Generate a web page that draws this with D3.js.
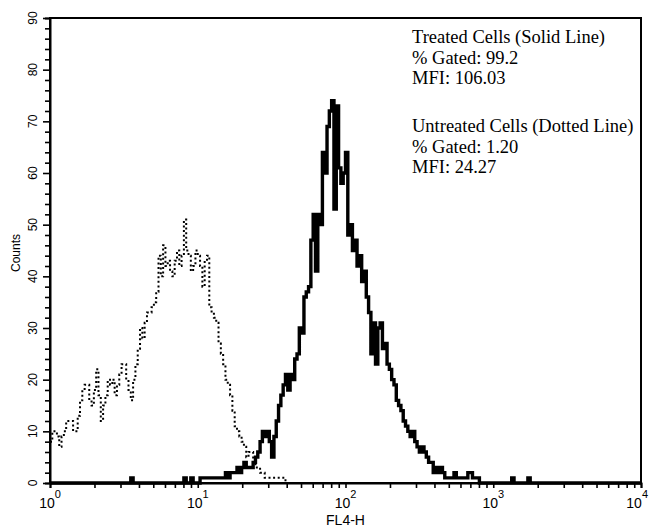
<!DOCTYPE html>
<html>
<head>
<meta charset="utf-8">
<script src="https://cdn.jsdelivr.net/npm/d3@7"></script>
<style>
  body { margin: 0; background: #fff; }
  svg { display: block; }
</style>
</head>
<body>
<div id="chart"></div>
<script>
// FL4-H histogram: 256 log channels over 4 decades (10^0 .. 10^4)
var channelCount = 256;
var decades = 4;

// treated cells (solid line): contiguous counts starting at treatedFirstChannel
var treatedFirstChannel = 66;
var treatedCounts = [
  1, 1, 1, 1, 1, 1, 1, 1, 1, 1,      // 66-75
  2, 1, 2, 2, 2, 3, 2, 3, 4, 3,      // 76-85
  3, 3, 4, 5, 6, 8, 10, 9, 10, 8,    // 86-95
  5, 9, 12, 15, 17, 19, 21, 18, 21, 20,   // 96-105
  24, 25, 30, 29, 36, 37, 38, 47, 52, 41, // 106-115
  52, 50, 64, 60, 69, 72, 74, 53, 73, 61, // 116-125
  58, 60, 64, 48, 50, 45, 47, 42, 44, 39, // 126-135
  41, 36, 33, 25, 31, 23, 30, 31, 26, 27, // 136-145
  23, 22, 20, 19, 16, 15, 14, 12, 11, 10, // 146-155
  9, 10, 8, 7, 6, 7, 6, 5, 4, 4,          // 156-165
  2, 3, 2, 3, 2, 1, 1, 1, 1, 2,           // 166-175
  1, 1, 1, 1, 1, 2, 2, 1, 1, 1            // 176-185
];
// lone events away from the main peak
var treatedStrays = [35, 58, 61, 65, 200, 207];

// untreated cells (dotted line)
var untreatedFirstChannel = 0;
var untreatedCounts = [
  8, 10, 10, 9, 7, 9, 10, 12, 12, 12,      // 0-9
  10, 10, 13, 16, 18, 19, 19, 16, 15, 18,  // 10-19
  22, 17, 12, 15, 17, 20, 19, 20, 17, 19,  // 20-29
  21, 23, 23, 20, 18, 16, 20, 23, 26, 30,  // 30-39
  28, 31, 33, 33, 34, 35, 37, 44, 40, 46,  // 40-49
  42, 43, 41, 40, 43, 45, 42, 44, 51, 45,  // 50-59
  44, 41, 42, 45, 44, 42, 38, 43, 44, 34,  // 60-69
  33, 32, 31, 27, 25, 23, 20, 19, 17, 14,  // 70-79
  11, 10, 9, 8, 7, 5, 6, 6, 4, 3,          // 80-89
  3, 2, 2, 1, 1, 1, 1, 1, 1, 1, 1, 1       // 90-101
];

var yTicks = [0, 10, 20, 30, 40, 50, 60, 70, 80, 90];
var xDecades = [0, 1, 2, 3, 4];
var legendTreated = ["Treated Cells (Solid Line)", "% Gated: 99.2", "MFI: 106.03"];
var legendUntreated = ["Untreated Cells (Dotted Line)", "% Gated: 1.20", "MFI: 24.27"];

var width = 649, height = 527;
var margin = { top: 18, right: 8, bottom: 44, left: 50 };

var svg = d3.select("#chart")
  .append("svg")
  .attr("width", width)
  .attr("height", height);

var x = d3.scaleLog()
  .domain([1, Math.pow(10, decades)])
  .range([margin.left, width - margin.right]);

var y = d3.scaleLinear()
  .domain([0, 90])
  .range([height - margin.bottom, margin.top]);

// channel number -> FL4-H value
function channelValue(c) {
  return Math.pow(10, c * decades / channelCount);
}

// build full channel arrays for each series
var treated = d3.range(channelCount).map(function () { return 0; });
treatedCounts.forEach(function (v, i) { treated[treatedFirstChannel + i] = v; });
treatedStrays.forEach(function (c) { treated[c] += 1; });
var treatedPts = treated.map(function (v, c) { return [c, v]; });
treatedPts.push([channelCount, 0]);

var untreatedPts = untreatedCounts.map(function (v, i) { return [untreatedFirstChannel + i, v]; });
untreatedPts.push([untreatedFirstChannel + untreatedCounts.length, 0]);

var line = d3.line()
  .x(function (d) { return x(channelValue(d[0])); })
  .y(function (d) { return y(d[1]); })
  .curve(d3.curveStepAfter);

// dotted histogram first, solid on top
svg.append("path")
  .datum(untreatedPts)
  .attr("fill", "none")
  .attr("stroke", "#000")
  .attr("stroke-width", 2)
  .attr("stroke-dasharray", "2,2.6")
  .attr("d", line);

svg.append("path")
  .datum(treatedPts)
  .attr("fill", "none")
  .attr("stroke", "#000")
  .attr("stroke-width", 3.4)
  .attr("stroke-linejoin", "miter")
  .attr("d", line);

// frame
svg.append("rect")
  .attr("x", x.range()[0])
  .attr("y", y.range()[1])
  .attr("width", x.range()[1] - x.range()[0])
  .attr("height", y.range()[0] - y.range()[1])
  .attr("fill", "none")
  .attr("stroke", "#000")
  .attr("stroke-width", 2);

// y axis: major every 10, minor every 2
var yAxis = svg.append("g")
  .attr("transform", "translate(" + margin.left + ",0)")
  .call(d3.axisLeft(y).tickValues(d3.range(0, 91, 2)).tickSize(5).tickFormat(""));
yAxis.select(".domain").attr("stroke-width", 2);
yAxis.selectAll(".tick line")
  .attr("stroke-width", 1.6)
  .attr("x2", function (d) { return d % 10 === 0 ? -7 : -5; });

svg.append("g").selectAll("text")
  .data(yTicks)
  .enter()
  .append("text")
  .attr("transform", function (d) { return "translate(37," + y(d) + ") rotate(-90)"; })
  .attr("text-anchor", "middle")
  .attr("font-family", "Liberation Sans, Arial, sans-serif")
  .attr("font-size", 12)
  .text(function (d) { return d; });

// x axis: log ticks 1..9 per decade
var xTickVals = [];
xDecades.forEach(function (p) {
  if (p < decades) {
    d3.range(1, 10).forEach(function (m) { xTickVals.push(m * Math.pow(10, p)); });
  } else {
    xTickVals.push(Math.pow(10, p));
  }
});
var xAxis = svg.append("g")
  .attr("transform", "translate(0," + (height - margin.bottom) + ")")
  .call(d3.axisBottom(x).tickValues(xTickVals).tickSize(5).tickFormat(""));
xAxis.select(".domain").attr("stroke-width", 2);
xAxis.selectAll(".tick line").attr("stroke-width", 1.6);

var xLabels = svg.append("g").selectAll("text")
  .data(xDecades)
  .enter()
  .append("text")
  .attr("x", function (d) { return d === decades ? width - 1 : x(Math.pow(10, d)); })
  .attr("y", 508)
  .attr("text-anchor", function (d) { return d === decades ? "end" : "middle"; })
  .attr("font-family", "Liberation Sans, Arial, sans-serif")
  .attr("font-size", 14);
xLabels.append("tspan").text("10");
xLabels.append("tspan")
  .attr("dy", -10)
  .attr("font-size", 11)
  .text(function (d) { return d; });

// axis titles
svg.append("text")
  .attr("x", x(100))
  .attr("y", 525)
  .attr("text-anchor", "middle")
  .attr("font-family", "Liberation Sans, Arial, sans-serif")
  .attr("font-size", 14)
  .text("FL4-H");

svg.append("text")
  .attr("transform", "translate(20,253) rotate(-90)")
  .attr("text-anchor", "middle")
  .attr("font-family", "Liberation Sans, Arial, sans-serif")
  .attr("font-size", 12)
  .text("Counts");

// stats text
function addBlock(lines, top) {
  svg.append("g").selectAll("text")
    .data(lines)
    .enter()
    .append("text")
    .attr("x", 412)
    .attr("y", function (d, i) { return top + i * 20.5; })
    .attr("font-family", "Liberation Serif, Times New Roman, serif")
    .attr("font-size", 18.5)
    .attr("fill", "#000")
    .text(function (d) { return d; });
}
addBlock(legendTreated, 43);
addBlock(legendUntreated, 132);
</script>
</body>
</html>
